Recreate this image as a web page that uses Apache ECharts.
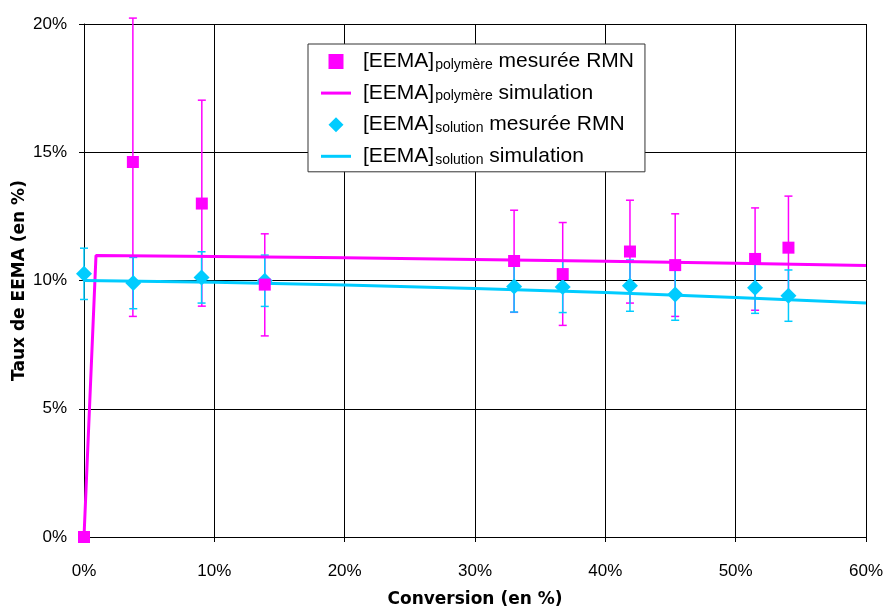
<!DOCTYPE html>
<html><head><meta charset="utf-8">
<script src="https://cdn.jsdelivr.net/npm/echarts@6/dist/echarts.min.js"></script>
<style>html,body{margin:0;padding:0;background:#fff}#c{width:883px;height:607px}</style>
</head><body><div id="c"></div>
<script>
// Measured points: polymer (squares)
var polyX = [0, 3.75, 9.04, 13.87, 33.0, 36.73, 41.89, 45.36, 51.49, 54.05];
var polyY = [0, 14.62, 13.0, 9.84, 10.76, 10.25, 11.13, 10.60, 10.84, 11.28];
var polyLow = [null, 8.6, 9.0, 7.84, 8.76, 8.25, 9.12, 8.6, 8.84, 9.28];
var polyHigh = [null, 20.23, 17.03, 11.82, 12.74, 12.26, 13.13, 12.6, 12.83, 13.29];
// Measured points: solution (diamonds)
var solX = [0, 3.78, 9.02, 13.87, 33.0, 36.73, 41.89, 45.36, 51.49, 54.05];
var solY = [10.26, 9.90, 10.12, 9.99, 9.77, 9.75, 9.80, 9.45, 9.72, 9.41];
var solLow = [9.26, 8.9, 9.12, 8.99, 8.77, 8.75, 8.8, 8.45, 8.72, 8.41];
var solHigh = [11.26, 10.9, 11.12, 10.99, 10.77, 10.75, 10.8, 10.45, 10.72, 10.41];
// Simulations
var simPolyX = [0, 0.92, 10, 20, 30, 40, 50, 60];
var simPolyY = [0, 10.97, 10.94, 10.89, 10.82, 10.75, 10.67, 10.58];
var simSolX = [0, 10, 20, 30, 40, 50, 60];
var simSolY = [10.0, 9.93, 9.82, 9.69, 9.53, 9.34, 9.12];
// Legend labels
var legendNames = ['pm', 'ps', 'sm', 'ss'];
var legendLabels = {
  pm: '{b|[EEMA]}{s|polymère}{a| mesurée RMN}',
  ps: '{b|[EEMA]}{s|polymère}{a| simulation}',
  sm: '{b|[EEMA]}{s|solution}{a| mesurée RMN}',
  ss: '{b|[EEMA]}{s|solution}{a| simulation}'
};

var MAG = '#ff00ff', CYA = '#00ccff';
function zip(a, b) { return a.map(function (v, i) { return [v, b[i]]; }); }
function errData(x, lo, hi) {
  var out = [];
  x.forEach(function (v, i) { if (lo[i] != null) out.push([v, lo[i], hi[i]]); });
  return out;
}
function errRender(color) {
  return function (params, api) {
    var x = api.value(0), lo = api.value(1), hi = api.value(2);
    var p1 = api.coord([x, hi]), p2 = api.coord([x, lo]);
    var w = 4, st = { stroke: color, lineWidth: 1.5 };
    return { type: 'group', children: [
      { type: 'line', shape: { x1: p1[0], y1: p1[1], x2: p2[0], y2: p2[1] }, style: st },
      { type: 'line', shape: { x1: p1[0] - w, y1: p1[1], x2: p1[0] + w, y2: p1[1] }, style: st },
      { type: 'line', shape: { x1: p2[0] - w, y1: p2[1], x2: p2[0] + w, y2: p2[1] }, style: st }
    ] };
  };
}

var SQ = 'path://M0,0L10,0L10,10L0,10Z';
var DIA = 'path://M5,0L10,5L5,10L0,5Z';
var LN = 'path://M0,0L30,0L30,3L0,3Z';

var chart = echarts.init(document.getElementById('c'));
chart.setOption({
  animation: false,
  backgroundColor: '#fff',
  grid: { left: 84, right: 17, top: 24, bottom: 70, outerBoundsMode: 'none', containLabel: false },
  xAxis: {
    type: 'value', min: 0, max: 60, interval: 10,
    name: 'Conversion (en %)', nameLocation: 'middle', nameGap: 54, nameMoveOverlap: false,
    nameTextStyle: { fontFamily: 'DejaVu Sans', fontWeight: 'bold', fontSize: 17, color: '#000' },
    axisLine: { lineStyle: { color: '#000', width: 1 } },
    axisTick: { show: true, length: 5, lineStyle: { color: '#000' } },
    axisLabel: { formatter: '{value}%', fontFamily: 'Liberation Sans', fontSize: 17, color: '#000', margin: 26 },
    splitLine: { show: true, lineStyle: { color: '#000', width: 1 } }
  },
  yAxis: {
    type: 'value', min: 0, max: 20, interval: 5,
    name: 'Taux de EEMA (en %)', nameLocation: 'middle', nameGap: 56, nameMoveOverlap: false,
    nameTextStyle: { fontFamily: 'DejaVu Sans', fontWeight: 'bold', fontSize: 17, color: '#000' },
    axisLine: { show: true, lineStyle: { color: '#000', width: 1 } },
    axisTick: { show: true, length: 5, lineStyle: { color: '#000' } },
    axisLabel: { formatter: '{value}%', fontFamily: 'Liberation Sans', fontSize: 17, color: '#000', margin: 17 },
    splitLine: { show: true, lineStyle: { color: '#000', width: 1 } }
  },
  legend: {
    data: [
      { name: 'pm', icon: SQ, itemStyle: { color: MAG } },
      { name: 'ps', icon: LN, itemStyle: { color: MAG } },
      { name: 'sm', icon: DIA, itemStyle: { color: CYA } },
      { name: 'ss', icon: LN, itemStyle: { color: CYA } }
    ],
    symbolKeepAspect: true,
    orient: 'vertical', left: 308, top: 44,
    padding: [7, 11, 5, 13], itemGap: 10.6, itemWidth: 30, itemHeight: 15,
    backgroundColor: '#fff', borderColor: '#333', borderWidth: 1,
    formatter: function (n) { return legendLabels[n]; },
    textStyle: {
      rich: {
        b: { fontFamily: 'Liberation Sans', fontSize: 21, color: '#000', lineHeight: 21, verticalAlign: 'bottom', padding: [0, 0, 0, 7] },
        a: { fontFamily: 'Liberation Sans', fontSize: 21, color: '#000', lineHeight: 21, verticalAlign: 'bottom' },
        s: { fontFamily: 'Liberation Sans', fontSize: 14, color: '#000', lineHeight: 21, verticalAlign: 'bottom', padding: [7, 0, 0, 1] }
      }
    }
  },
  series: [
    { name: 'pe', type: 'custom', renderItem: errRender(MAG), data: errData(polyX, polyLow, polyHigh), encode: { x: 0, y: [1, 2] }, clip: false, z: 2 },
    { name: 'se', type: 'custom', renderItem: errRender(CYA), data: errData(solX, solLow, solHigh), encode: { x: 0, y: [1, 2] }, clip: false, z: 2 },
    { name: 'ps', type: 'line', data: zip(simPolyX, simPolyY), showSymbol: false, symbol: 'none', lineStyle: { color: MAG, width: 3 }, itemStyle: { color: MAG }, z: 3 },
    { name: 'ss', type: 'line', data: zip(simSolX, simSolY), showSymbol: false, symbol: 'none', lineStyle: { color: CYA, width: 3 }, itemStyle: { color: CYA }, z: 3 },
    { name: 'sm', type: 'scatter', data: zip(solX, solY), symbol: 'diamond', symbolSize: 16, itemStyle: { color: CYA, opacity: 1 }, z: 4 },
    { name: 'pm', type: 'scatter', data: zip(polyX, polyY), symbol: 'rect', symbolSize: 12, itemStyle: { color: MAG, opacity: 1 }, z: 5 }
  ]
});
</script></body></html>
